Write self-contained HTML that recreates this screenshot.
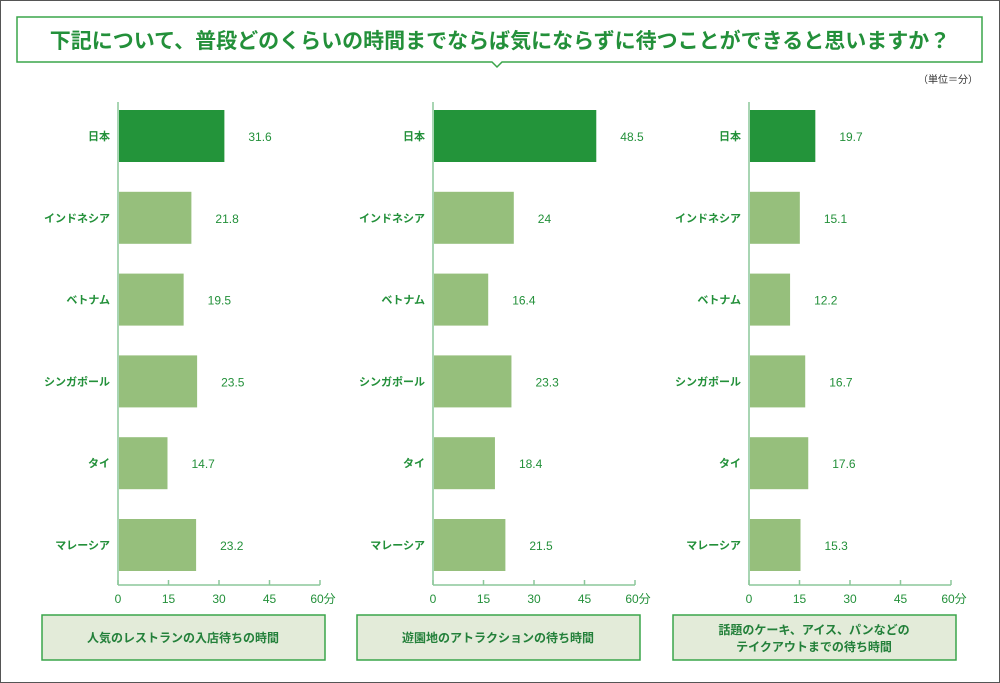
<!DOCTYPE html>
<html><head><meta charset="utf-8">
<style>
body{margin:0;width:1000px;height:683px;background:#fff;overflow:hidden;font-family:"Liberation Sans","Noto Sans CJK JP",sans-serif;}
#frame{position:absolute;left:0;top:0;width:998px;height:681px;border:1px solid #555;}
</style></head>
<body>
<div id="frame"></div>
<svg id="chart" width="1000" height="683" style="position:absolute;left:0;top:0">
  <g>
    <path d="M17,17 H982 V62 H502 L497,67 L492,62 H17 Z" fill="#fff" stroke="#3aa54a" stroke-width="1.5"/>
    <text x="500" y="48" text-anchor="middle" font-size="21" font-weight="bold" fill="#23903a" font-family="Liberation Sans,Noto Sans CJK JP,sans-serif">下記について、普段どのくらいの時間までならば気にならずに待つことができると思いますか？</text>
  </g>
  <text x="978" y="83" text-anchor="end" font-size="10" fill="#333" font-family="Liberation Sans,Noto Sans CJK JP,sans-serif">（単位＝分）</text>
</svg>
<script>
const categories=["日本","インドネシア","ベトナム","シンガポール","タイ","マレーシア"];
const restaurantValues=[31.6,21.8,19.5,23.5,14.7,23.2];
const parkValues=[48.5,24,16.4,23.3,18.4,21.5];
const takeoutValues=[19.7,15.1,12.2,16.7,17.6,15.3];
const tickValues=[0,15,30,45,60];
const tickLabels=["0","15","30","45","60分"];
const captions=[["人気のレストランの入店待ちの時間"],["遊園地のアトラクションの待ち時間"],["話題のケーキ、アイス、パンなどの","テイクアウトまでの待ち時間"]];

const NS="http://www.w3.org/2000/svg";
const svg=document.getElementById('chart');
const FONT='Liberation Sans,Noto Sans CJK JP,sans-serif';
function mk(tag,attrs,parent){const e=document.createElementNS(NS,tag);for(const k in attrs)e.setAttribute(k,attrs[k]);(parent||svg).appendChild(e);return e;}
const panels=[{x0:118,vals:restaurantValues,cap:captions[0],bx:42,name:'restaurant'},{x0:433,vals:parkValues,cap:captions[1],bx:357,name:'amusement-park'},{x0:749,vals:takeoutValues,cap:captions[2],bx:673,name:'takeout'}];
const SCALE=202/60;
const rowY=i=>136+i*81.8;
const BH=52;
panels.forEach(p=>{
  const g=mk('g',{});
  
  
  const xs=v=>p.x0+v*SCALE;
  const ax=mk('line',{x1:p.x0,y1:102,x2:p.x0,y2:585,stroke:'#8cc79a','stroke-width':1.5},g);
  
  
  const bx=mk('line',{x1:p.x0,y1:585,x2:xs(60),y2:585,stroke:'#8cc79a','stroke-width':1.5},g);
  
  
  tickValues.forEach((t,i)=>{
    const tk=mk('line',{x1:xs(t),y1:580,x2:xs(t),y2:585,stroke:'#8cc79a','stroke-width':1.5},g);
    
    
    const tl=mk('text',{x:xs(t)+(i==4?3:0),y:603,'text-anchor':'middle','font-size':12,fill:'#23903a','font-family':FONT},g);
    tl.textContent=tickLabels[i];
    
    
  });
  categories.forEach((c,i)=>{
    const y=rowY(i);
    const r=mk('rect',{x:p.x0+1,y:y-BH/2,width:xs(p.vals[i])-p.x0-1,height:BH,fill:i==0?'#23943a':'#96bf7c'},g);
    
    
    const l=mk('text',{x:p.x0-8,y:y+4,'text-anchor':'end','font-size':11,'font-weight':'bold',fill:'#23903a','font-family':FONT},g);
    l.textContent=c;
    
    
    const v=mk('text',{x:xs(p.vals[i])+24,y:y+5,'font-size':12,fill:'#23903a','font-family':FONT},g);
    v.textContent=String(p.vals[i]);
    
    
  });
  const cb=mk('rect',{x:p.bx,y:615,width:283,height:45,fill:'#e3ebd9',stroke:'#3aa54a','stroke-width':1.5},g);
  
  
  p.cap.forEach((line,j)=>{
    const cy=p.cap.length==1?642:634+j*17;
    const ct=mk('text',{x:p.bx+141,y:cy,'text-anchor':'middle','font-size':12,'font-weight':'bold',fill:'#23803a','font-family':FONT},g);
    ct.textContent=line;
    
    
  });
});
</script>
</body></html>
